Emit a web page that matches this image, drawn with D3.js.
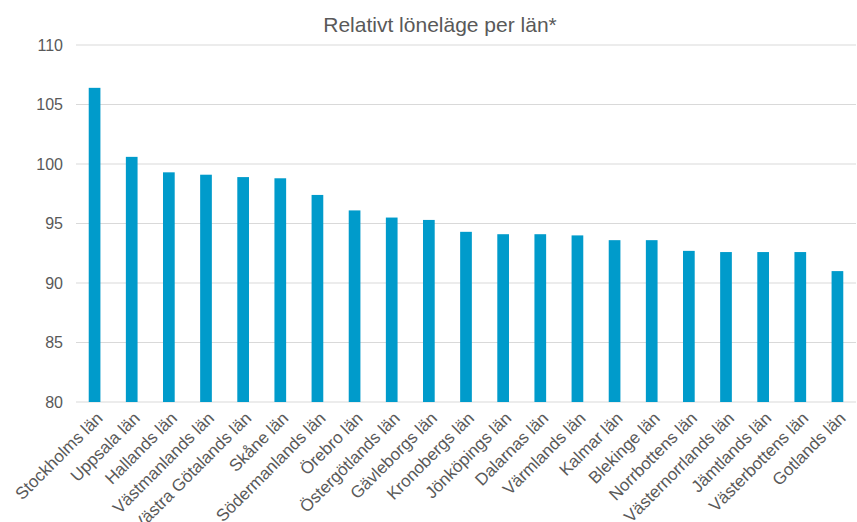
<!DOCTYPE html>
<html>
<head>
<meta charset="utf-8">
<script src="https://cdn.jsdelivr.net/npm/d3@7"></script>
<style>
  body { margin: 0; background: #fff; }
  text { font-family: "Liberation Sans", Arial, sans-serif; }
</style>
</head>
<body>
<div id="chart"></div>
<script>
// data
var counties = ["Stockholms län", "Uppsala län", "Hallands län", "Västmanlands län",
  "Västra Götalands län", "Skåne län", "Södermanlands län", "Örebro län",
  "Östergötlands län", "Gävleborgs län", "Kronobergs län", "Jönköpings län",
  "Dalarnas län", "Värmlands län", "Kalmar län", "Blekinge län", "Norrbottens län",
  "Västernorrlands län", "Jämtlands län", "Västerbottens län", "Gotlands län"];
var values = [106.4, 100.6, 99.3, 99.1, 98.9, 98.8, 97.4, 96.1, 95.5, 95.3, 94.3,
  94.1, 94.1, 94.0, 93.6, 93.6, 92.7, 92.6, 92.6, 92.6, 91.0];
var yTicks = [80, 85, 90, 95, 100, 105, 110];

var W = 857, H = 522;
var margin = {top: 45, right: 1, bottom: 120, left: 76},
    width = W - margin.left - margin.right,
    height = 402 - margin.top;

var svg = d3.select("#chart")
  .append("svg")
    .attr("width", W)
    .attr("height", H);

// title
svg.append("text")
    .attr("x", 440)
    .attr("y", 32)
    .attr("text-anchor", "middle")
    .style("font-size", "21px")
    .style("fill", "#595959")
    .text("Relativt löneläge per län*");

var g = svg.append("g")
    .attr("transform", "translate(" + margin.left + "," + margin.top + ")");

var x = d3.scaleBand()
    .domain(counties)
    .range([0, width])
    .paddingInner(0.685)
    .paddingOuter(0.3425);

var y = d3.scaleLinear()
    .domain([80, 110])
    .range([height, 0]);

// gridlines
g.append("g")
    .selectAll("line")
    .data(yTicks)
    .enter().append("line")
    .attr("x1", 0)
    .attr("x2", width)
    .attr("y1", function(d) { return y(d); })
    .attr("y2", function(d) { return y(d); })
    .style("stroke", "#d9d9d9")
    .style("stroke-width", 1);

// y axis labels
var yAxis = g.append("g")
    .call(d3.axisLeft(y).tickValues(yTicks).tickSize(0).tickPadding(13));
yAxis.select(".domain").remove();
yAxis.selectAll("text")
    .style("font-size", "16px")
    .style("fill", "#595959")
    .style("font-family", "'Liberation Sans', Arial, sans-serif");

// bars
g.selectAll(".bar")
    .data(values)
    .enter().append("rect")
    .attr("class", "bar")
    .attr("x", function(d, i) { return x(counties[i]); })
    .attr("y", function(d) { return y(d); })
    .attr("width", x.bandwidth())
    .attr("height", function(d) { return height - y(d); })
    .style("fill", "#009BCB");

// x axis labels
var xAxis = g.append("g")
    .attr("transform", "translate(0," + height + ")")
    .call(d3.axisBottom(x).tickSize(0).tickPadding(0));
xAxis.select(".domain").remove();
xAxis.selectAll("text")
    .attr("text-anchor", "end")
    .attr("transform", "translate(5,13) rotate(-45)")
    .attr("dy", "0.35em")
    .attr("y", 0)
    .style("font-size", "17px")
    .style("fill", "#595959")
    .style("font-family", "'Liberation Sans', Arial, sans-serif");
</script>
</body>
</html>
